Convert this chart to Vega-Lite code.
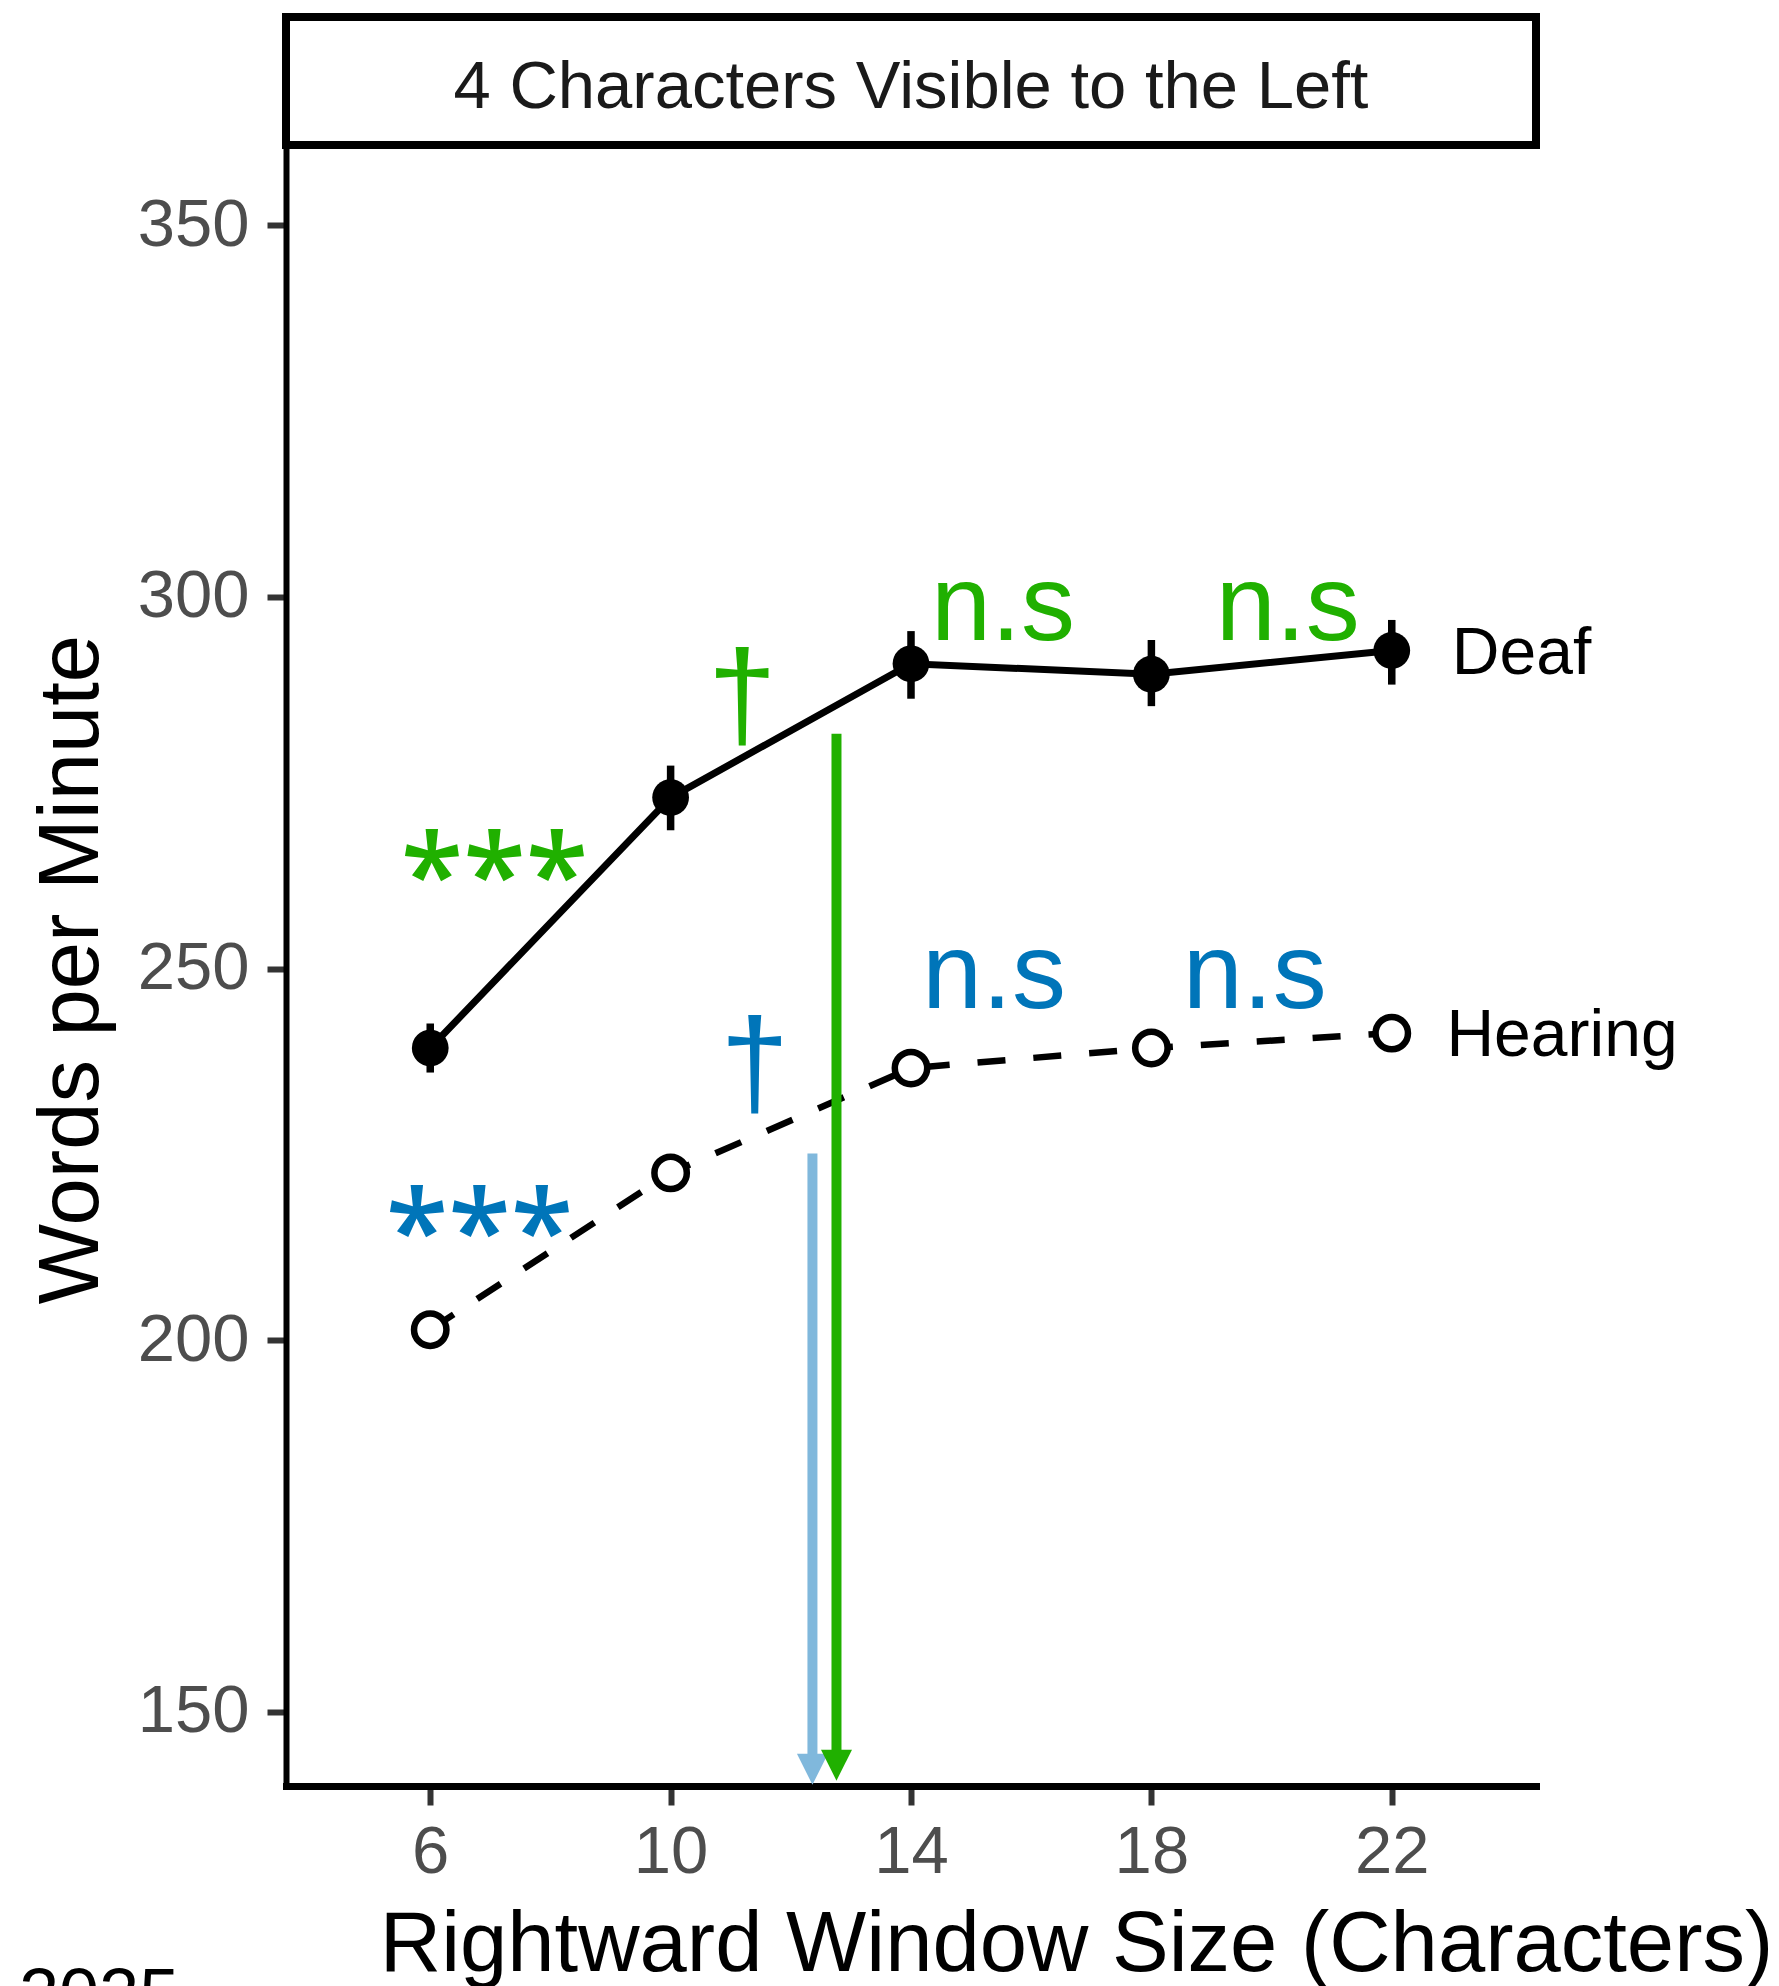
{
  "$schema": "https://vega.github.io/schema/vega-lite/v6.json",
  "padding": {"left": 19, "top": 13, "right": 0, "bottom": 0},
  "autosize": {"type": "pad"},
  "background": "white",
  "spacing": 2,
  "config": {"font": "Liberation Sans", "axis": {"grid": false}},
  "datasets": {
    "means": [
      {"group": "Deaf", "x": 6, "y": 239.3, "lo": 236.0, "hi": 242.6},
      {"group": "Deaf", "x": 10, "y": 273.0, "lo": 268.6, "hi": 277.3},
      {"group": "Deaf", "x": 14, "y": 291.0, "lo": 286.3, "hi": 295.4},
      {"group": "Deaf", "x": 18, "y": 289.6, "lo": 285.3, "hi": 294.2},
      {"group": "Deaf", "x": 22, "y": 292.8, "lo": 288.2, "hi": 296.9},
      {"group": "Hearing", "x": 6, "y": 201.4},
      {"group": "Hearing", "x": 10, "y": 222.5},
      {"group": "Hearing", "x": 14, "y": 236.6},
      {"group": "Hearing", "x": 18, "y": 239.3},
      {"group": "Hearing", "x": 22, "y": 241.3}
    ],
    "notes": [
      {"text": "***", "kind": "star", "group": "Deaf", "x": 7.07, "y": 257.1},
      {"text": "***", "kind": "star", "group": "Hearing", "x": 6.82, "y": 209.1},
      {"text": "†", "kind": "dagger", "group": "Deaf", "x": 11.19, "y": 286.1},
      {"text": "†", "kind": "dagger", "group": "Hearing", "x": 11.40, "y": 236.6},
      {"text": "n.s", "kind": "ns", "group": "Deaf", "x": 15.53, "y": 294.2},
      {"text": "n.s", "kind": "ns", "group": "Deaf", "x": 20.27, "y": 294.2},
      {"text": "n.s", "kind": "ns", "group": "Hearing", "x": 15.38, "y": 244.7},
      {"text": "n.s", "kind": "ns", "group": "Hearing", "x": 19.72, "y": 244.7}
    ],
    "arrows": [
      {"group": "Hearing", "x": 12.36, "top": 225.1, "y": 142.25},
      {"group": "Deaf", "x": 12.76, "top": 281.6, "y": 142.8}
    ],
    "labels": [
      {"text": "Deaf", "x": 23.0, "y": 292.3},
      {"text": "Hearing", "x": 22.91, "y": 240.9}
    ],
    "caption": [
      {"text": "2025", "x": 0.49, "y": 108.6}
    ]
  },
  "vconcat": [
    {
      "width": 1250,
      "height": 128,
      "view": {"stroke": "black", "strokeWidth": 8, "fill": "white"},
      "data": {"values": [{"strip": "4 Characters Visible to the Left"}]},
      "mark": {"type": "text", "fontSize": 67, "color": "#1a1a1a", "font": "Liberation Sans", "baseline": "middle", "dy": 7},
      "encoding": {"text": {"field": "strip", "type": "nominal"}}
    },
    {
      "width": 1250,
      "height": 1635,
      "view": {"stroke": null},
      "encoding": {
        "x": {
          "field": "x", "type": "quantitative",
          "scale": {"domain": [3.6, 24.4], "nice": false, "zero": false},
          "axis": {
            "title": "Rightward Window Size (Characters)",
            "values": [6, 10, 14, 18, 22],
            "domainColor": "black", "domainWidth": 7, "domainCap": "square",
            "tickColor": "#333333", "tickWidth": 6, "tickSize": 19,
            "labelFontSize": 67, "labelColor": "#4d4d4d", "labelPadding": 14, "labelFont": "Liberation Sans",
            "labelFlush": false, "labelOverlap": false,
            "titleFontSize": 85, "titleFont": "Liberation Sans", "titleFontWeight": "normal", "titleColor": "black",
            "titleX": 790, "titleY": 184, "titleBaseline": "alphabetic", "titleAlign": "center"
          }
        },
        "y": {
          "field": "y", "type": "quantitative",
          "scale": {"domain": [140, 360], "nice": false, "zero": false},
          "axis": {
            "title": "Words per Minute",
            "values": [150, 200, 250, 300, 350],
            "domainColor": "black", "domainWidth": 6, "domainCap": "square",
            "tickColor": "#333333", "tickWidth": 6, "tickSize": 19,
            "labelFontSize": 67, "labelColor": "#4d4d4d", "labelPadding": 18, "labelOffset": 0, "labelFont": "Liberation Sans",
            "labelFlush": false, "labelOverlap": false,
            "titleFontSize": 85, "titleFont": "Liberation Sans", "titleFontWeight": "normal", "titleColor": "black",
            "titleX": -189, "titleY": 818, "titleBaseline": "alphabetic", "titleAlign": "center", "titleAngle": -90
          }
        }
      },
      "layer": [
        {
          "data": {"name": "means"},
          "transform": [{"filter": "datum.group === 'Deaf'"}],
          "mark": {"type": "line", "color": "black", "strokeWidth": 7}
        },
        {
          "data": {"name": "means"},
          "transform": [{"filter": "datum.group === 'Hearing'"}],
          "mark": {"type": "line", "color": "black", "strokeWidth": 6.5, "strokeDash": [28, 28]}
        },
        {
          "data": {"name": "means"},
          "transform": [{"filter": "datum.group === 'Deaf'"}],
          "mark": {"type": "rule", "color": "black", "strokeWidth": 7.5},
          "encoding": {
            "y": {"field": "lo", "type": "quantitative"},
            "y2": {"field": "hi"}
          }
        },
        {
          "data": {"name": "arrows"},
          "transform": [{"filter": "datum.group === 'Hearing'"}],
          "mark": {"type": "rule", "color": "#80b8dc", "strokeWidth": 10},
          "encoding": {"y": {"field": "top", "type": "quantitative"}, "y2": {"field": "y"}}
        },
        {
          "data": {"name": "arrows"},
          "transform": [{"filter": "datum.group === 'Hearing'"}],
          "mark": {"type": "point", "shape": "M-1,-1L1,-1L0,1Z", "filled": true, "color": "#80b8dc", "size": 961, "opacity": 1, "strokeWidth": 0}
        },
        {
          "data": {"name": "arrows"},
          "transform": [{"filter": "datum.group === 'Deaf'"}],
          "mark": {"type": "rule", "color": "#20b000", "strokeWidth": 10},
          "encoding": {"y": {"field": "top", "type": "quantitative"}, "y2": {"field": "y"}}
        },
        {
          "data": {"name": "arrows"},
          "transform": [{"filter": "datum.group === 'Deaf'"}],
          "mark": {"type": "point", "shape": "M-1,-1L1,-1L0,1Z", "filled": true, "color": "#20b000", "size": 961, "opacity": 1, "strokeWidth": 0}
        },
        {
          "data": {"name": "means"},
          "transform": [{"filter": "datum.group === 'Deaf'"}],
          "mark": {"type": "point", "shape": "circle", "filled": true, "color": "black", "size": 1350, "opacity": 1}
        },
        {
          "data": {"name": "means"},
          "transform": [{"filter": "datum.group === 'Hearing'"}],
          "mark": {"type": "point", "shape": "circle", "filled": true, "fill": "white", "stroke": "black", "strokeWidth": 6.5, "size": 1050, "opacity": 1}
        },
        {
          "data": {"name": "labels"},
          "mark": {"type": "text", "font": "Liberation Sans", "fontSize": 66, "align": "left", "baseline": "middle", "color": "black"},
          "encoding": {"text": {"field": "text", "type": "nominal"}}
        },
        {
          "data": {"name": "caption"},
          "mark": {"type": "text", "font": "Liberation Sans", "fontSize": 72, "align": "center", "baseline": "alphabetic", "color": "black"},
          "encoding": {"text": {"field": "text", "type": "nominal"}}
        },
        {
          "data": {"name": "notes"},
          "transform": [{"filter": "datum.kind === 'star'"}],
          "mark": {"type": "text", "font": "Open Sans", "fontSize": 114, "fontWeight": 600, "align": "center", "baseline": "alphabetic"},
          "encoding": {
            "text": {"field": "text", "type": "nominal"},
            "color": {"field": "group", "type": "nominal", "scale": {"domain": ["Deaf", "Hearing"], "range": ["#20b000", "#0075b9"]}, "legend": null}
          }
        },
        {
          "data": {"name": "notes"},
          "transform": [{"filter": "datum.kind === 'dagger'"}],
          "mark": {"type": "text", "font": "Liberation Sans", "fontSize": 124, "align": "center", "baseline": "middle"},
          "encoding": {
            "text": {"field": "text", "type": "nominal"},
            "color": {"field": "group", "type": "nominal", "scale": {"domain": ["Deaf", "Hearing"], "range": ["#20b000", "#0075b9"]}, "legend": null}
          }
        },
        {
          "data": {"name": "notes"},
          "transform": [{"filter": "datum.kind === 'ns'"}],
          "mark": {"type": "text", "font": "Liberation Sans", "fontSize": 108, "align": "center", "baseline": "alphabetic"},
          "encoding": {
            "text": {"field": "text", "type": "nominal"},
            "color": {"field": "group", "type": "nominal", "scale": {"domain": ["Deaf", "Hearing"], "range": ["#20b000", "#0075b9"]}, "legend": null}
          }
        }
      ]
    }
  ]
}
